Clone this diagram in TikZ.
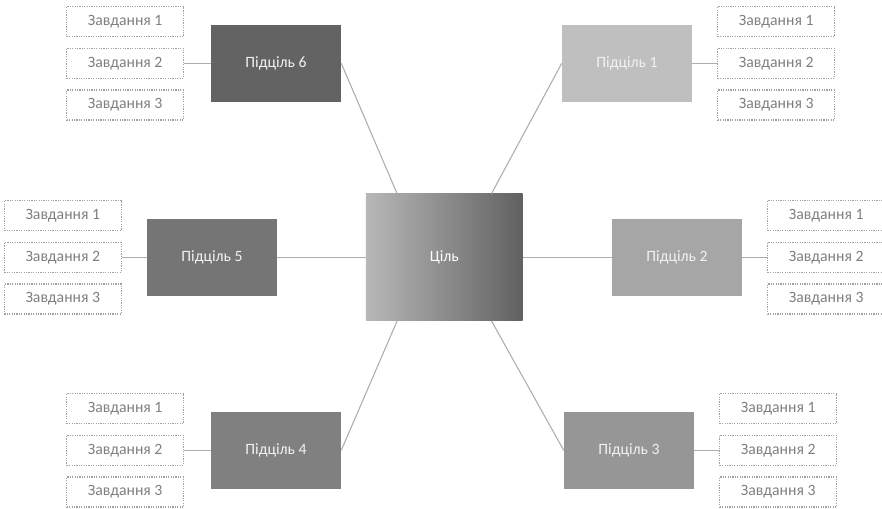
\documentclass[tikz,border=0pt]{standalone}
\usepackage{fontspec}
\setmainfont{Carlito}
\usepackage{tikz}
\usetikzlibrary{positioning, calc}

\definecolor{linegray}{HTML}{ADADAD}
\definecolor{dotgray}{HTML}{A0A0A0}
\definecolor{taskgray}{HTML}{7F7F7F}

\tikzset{
    goalbox/.style = {minimum width=117.5pt, minimum height=95pt, inner sep=0pt,
        left color=black!28, right color=black!62, text=white},
    subbox/.style = {minimum width=97.5pt, minimum height=57.75pt, inner sep=0pt, text=white!95!black},
    taskbox/.style = {draw=dotgray, line width=0.9pt, dash pattern=on 0.9pt off 0.9pt,
        minimum width=87.5pt, minimum height=22.5pt, inner sep=0pt, text=taskgray},
    link/.style = {draw=linegray, line width=0.8pt},
}

\begin{document}
\begin{tikzpicture}[x=0.75pt, y=-0.75pt, font=\fontsize{11.8}{14}\selectfont, node distance=7.9pt]
    \useasboundingbox (0,0) rectangle (882,508);

    \node[goalbox] (goal) at (444.3,257.3) {Ціль};

    \node[subbox, fill=black!25] (sub1) at (627,63.3) {Підціль 1};
    \node[subbox, fill=black!35] (sub2) at (677,257.3) {Підціль 2};
    \node[subbox, fill=black!41] (sub3) at (629,450.3) {Підціль 3};
    \node[subbox, fill=black!50] (sub4) at (276,450.3) {Підціль 4};
    \node[subbox, fill=black!54] (sub5) at (212,257.3) {Підціль 5};
    \node[subbox, fill=black!61] (sub6) at (276,63.3) {Підціль 6};

    % tasks right of the goals 1-3
    \node[taskbox, right=18.75pt of sub1] (task1b) {Завдання 2};
    \node[taskbox, above=of task1b] (task1a) {Завдання 1};
    \node[taskbox, below=of task1b] (task1c) {Завдання 3};

    \node[taskbox, right=18.75pt of sub2] (task2b) {Завдання 2};
    \node[taskbox, above=of task2b] (task2a) {Завдання 1};
    \node[taskbox, below=of task2b] (task2c) {Завдання 3};

    \node[taskbox, right=18.75pt of sub3] (task3b) {Завдання 2};
    \node[taskbox, above=of task3b] (task3a) {Завдання 1};
    \node[taskbox, below=of task3b] (task3c) {Завдання 3};

    % tasks left of the goals 4-6
    \node[taskbox, left=20pt of sub4] (task4b) {Завдання 2};
    \node[taskbox, above=of task4b] (task4a) {Завдання 1};
    \node[taskbox, below=of task4b] (task4c) {Завдання 3};

    \node[taskbox, left=18.75pt of sub5] (task5b) {Завдання 2};
    \node[taskbox, above=of task5b] (task5a) {Завдання 1};
    \node[taskbox, below=of task5b] (task5c) {Завдання 3};

    \node[taskbox, left=20pt of sub6] (task6b) {Завдання 2};
    \node[taskbox, above=of task6b] (task6a) {Завдання 1};
    \node[taskbox, below=of task6b] (task6c) {Завдання 3};

    \coordinate (topl) at ($(goal.north west)!0.2!(goal.north east)$);
    \coordinate (topr) at ($(goal.north west)!0.8!(goal.north east)$);
    \coordinate (botl) at ($(goal.south west)!0.2!(goal.south east)$);
    \coordinate (botr) at ($(goal.south west)!0.8!(goal.south east)$);

    \draw[link] (sub1.west) -- (topr);
    \draw[link] (sub2.west) -- (goal.east);
    \draw[link] (sub3.west) -- (botr);
    \draw[link] (sub4.east) -- (botl);
    \draw[link] (sub5.east) -- (goal.west);
    \draw[link] (sub6.east) -- (topl);

    \draw[link] (sub1) -- (task1b);
    \draw[link] (sub2) -- (task2b);
    \draw[link] (sub3) -- (task3b);
    \draw[link] (sub4) -- (task4b);
    \draw[link] (sub5) -- (task5b);
    \draw[link] (sub6) -- (task6b);
\end{tikzpicture}
\end{document}
